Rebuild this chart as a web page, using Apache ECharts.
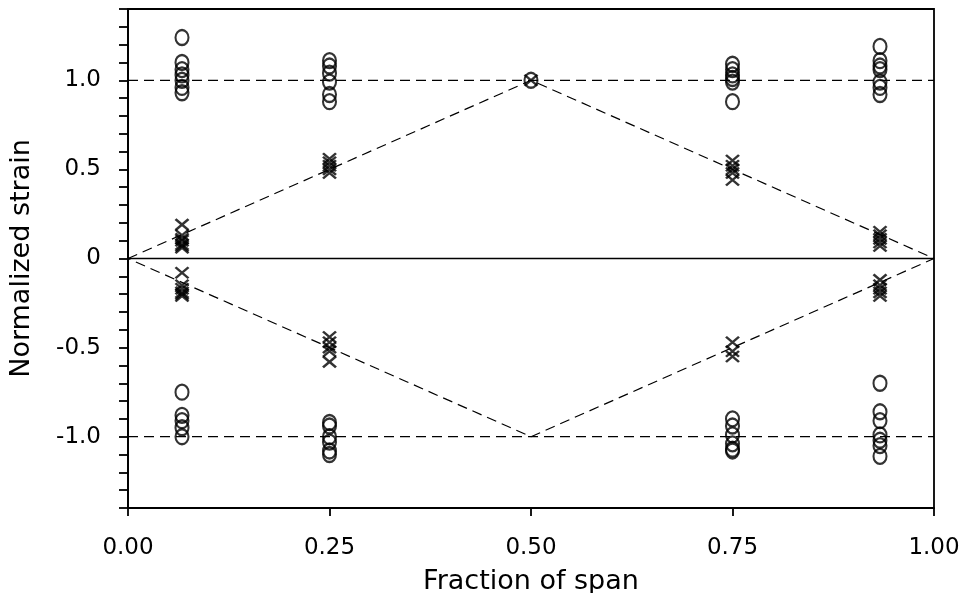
<!DOCTYPE html>
<html>
<head>
<meta charset="utf-8">
<script src="https://cdn.jsdelivr.net/npm/echarts@6/dist/echarts.min.js"></script>
<style>html,body{margin:0;padding:0;background:#fff}#c{width:962px;height:593px}</style>
</head>
<body>
<div id="c"></div>
<script>
// gauge positions (fraction of span)
const gaugePositions = [0.067, 0.25, 0.75, 0.933];
// measured normalized strain — circles near +1
const circlesUpper = [
  [1.24, 1.10, 1.06, 1.03, 1.00, 0.96, 0.93],
  [1.11, 1.08, 1.04, 0.99, 0.92, 0.88],
  [1.09, 1.06, 1.03, 1.01, 0.99, 0.88],
  [1.19, 1.11, 1.08, 1.06, 0.99, 0.96, 0.92]
];
// circles near -1
const circlesLower = [
  [-0.75, -0.88, -0.91, -0.95, -1.00],
  [-0.92, -0.94, -1.00, -1.03, -1.08, -1.10],
  [-0.90, -0.94, -0.99, -1.04, -1.07, -1.08],
  [-0.70, -0.86, -0.91, -0.99, -1.02, -1.05, -1.11]
];
// crosses, positive branch
const crossesUpper = [
  [0.19, 0.13, 0.11, 0.10, 0.08, 0.07, 0.06],
  [0.56, 0.54, 0.52, 0.50, 0.48],
  [0.55, 0.52, 0.50, 0.48, 0.44],
  [0.15, 0.13, 0.11, 0.09, 0.07]
];
// crosses, negative branch
const crossesLower = [
  [-0.08, -0.15, -0.17, -0.19, -0.20, -0.21],
  [-0.44, -0.47, -0.50, -0.52, -0.58],
  [-0.47, -0.52, -0.55],
  [-0.12, -0.15, -0.17, -0.19, -0.21]
];
// midspan point (both markers)
const midPosition = 0.5;
const midValue = 1.0;
// reference lines
const upperRef = [[0, 1], [1, 1]];
const lowerRef = [[0, -1], [1, -1]];
const diamond = [[0, 0], [0.5, 1], [1, 0], [0.5, -1], [0, 0]];
const zeroLine = [[0, 0], [1, 0]];
const xTicks = [0, 0.25, 0.5, 0.75, 1.0];
const yLabels = {'10': '1.0', '5': '0.5', '0': '0', '-5': '-0.5', '-10': '-1.0'};

function pts(groups) {
  const out = [];
  groups.forEach((g, i) => g.forEach(v => out.push([gaugePositions[i], v])));
  return out;
}
const circleData = pts(circlesUpper).concat(pts(circlesLower)).concat([[midPosition, midValue]]);
const crossData = pts(crossesUpper).concat(pts(crossesLower)).concat([[midPosition, midValue]]);

const font = 'DejaVu Sans';
const dashed = {color: '#000', width: 1.2, type: [10, 6]};
const chart = echarts.init(document.getElementById('c'));
chart.setOption({
  animation: false,
  backgroundColor: '#fff',
  grid: {left: 128, right: 28, top: 9, bottom: 85, outerBoundsMode: 'none', containLabel: false,
    show: true, borderColor: '#000', borderWidth: 1.8, backgroundColor: 'transparent'},
  xAxis: {
    type: 'value', min: 0, max: 1, interval: 0.25,
    name: 'Fraction of span', nameLocation: 'middle', nameGap: 60,
    nameTextStyle: {fontFamily: font, fontSize: 27, color: '#000'},
    axisLine: {show: true, onZero: false, lineStyle: {color: '#000', width: 1.8}},
    axisTick: {show: true, inside: false, length: 8, lineStyle: {color: '#000', width: 1.8}},
    axisLabel: {fontFamily: font, fontSize: 23, color: '#000', margin: 29, formatter: v => v.toFixed(2)},
    splitLine: {show: false}
  },
  yAxis: {
    type: 'value', min: -1.4, max: 1.4, interval: 0.1,
    name: 'Normalized strain', nameLocation: 'middle', nameGap: 93,
    nameTextStyle: {fontFamily: font, fontSize: 27, color: '#000'},
    axisLine: {show: true, onZero: false, lineStyle: {color: '#000', width: 1.8}},
    axisTick: {show: true, inside: false, length: 9, lineStyle: {color: '#000', width: 1.8}},
    axisLabel: {fontFamily: font, fontSize: 23, color: '#000', margin: 27, showMinLabel: true, showMaxLabel: true,
      formatter: v => { const k = String(Math.round(v * 10)); return yLabels[k] !== undefined ? yLabels[k] : ''; }},
    splitLine: {show: false}
  },
  series: [
    {type: 'line', data: upperRef, symbol: 'none', lineStyle: dashed, silent: true},
    {type: 'line', data: lowerRef, symbol: 'none', lineStyle: dashed, silent: true},
    {type: 'line', data: diamond, symbol: 'none', lineStyle: dashed, silent: true},
    {type: 'line', data: zeroLine, symbol: 'none', lineStyle: {color: '#000', width: 1.6}, silent: true},
    {type: 'scatter', data: circleData, symbol: 'circle', symbolSize: [13, 15],
      itemStyle: {color: 'rgba(0,0,0,0)', borderColor: '#000', borderWidth: 2.2}},
    {type: 'scatter', data: crossData, symbol: 'path://M0,0L12,10M12,0L0,10', symbolSize: [13, 11],
      itemStyle: {color: 'rgba(0,0,0,0)', borderColor: '#000', borderWidth: 2.4}}
  ]
});
</script>
</body>
</html>
